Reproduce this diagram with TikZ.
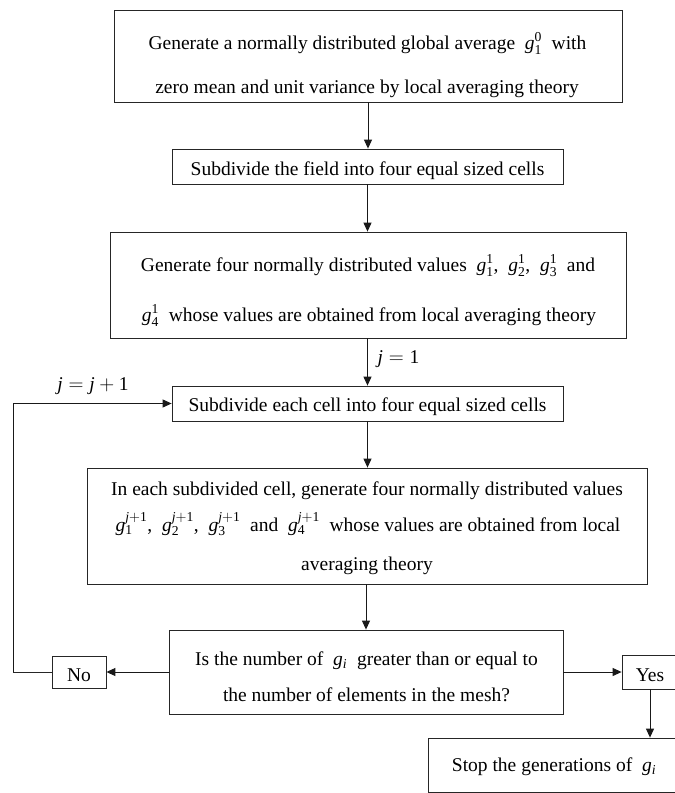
\documentclass[tikz,border=0pt]{standalone}
\usepackage{fontspec}
\setmainfont{Liberation Serif}
\usetikzlibrary{arrows.meta}
\tikzset{
  box/.style={draw=black!85, line width=0.8pt, inner sep=0pt, rectangle},
  txt/.style={anchor=base, inner sep=0pt, font=\fontsize{19.5}{23}\selectfont},
  arr/.style={draw=black!90, line width=1pt, -{Triangle[length=9pt,width=8pt]}},
  plain/.style={draw=black!85, line width=0.8pt}
}
\newcommand{\gv}[2]{\mathit{g}_{\mathrm{#1}}^{\mathrm{#2}}}
\begin{document}
\begin{tikzpicture}[x=1pt,y=-1pt]
\clip (0,0) rectangle (675,793);
\fill[white] (0,0) rectangle (675,793);
% boxes
\node[box, minimum width=508, minimum height=92] (b1) at (368,56) {};
\node[box, minimum width=391, minimum height=35] (b2) at (367.5,166.5) {};
\node[box, minimum width=516, minimum height=106] (b3) at (368,285) {};
\node[box, minimum width=391, minimum height=35] (b4) at (367.5,403.5) {};
\node[box, minimum width=560, minimum height=116] (b5) at (367,526) {};
\node[box, minimum width=394, minimum height=84] (b6) at (366,672) {};
\node[box, minimum width=54, minimum height=32] (no) at (79,672) {};
\node[box, minimum width=56, minimum height=34] (yes) at (650,672) {};
\node[box, minimum width=264, minimum height=54] (stop) at (560,765) {};
% texts
\node[txt] (t1a) at (367.5,49) {Generate a normally distributed global average\ \ $\gv{1}{0}$\ \ with};
\node[txt] (t1b) at (367,93) {zero mean and unit variance by local averaging theory};
\node[txt] (t2) at (367.5,175.5) {Subdivide the field into four equal sized cells};
\node[txt] (t3a) at (368,271.5) {Generate four normally distributed values\ \ $\gv{1}{1}$,\ \ $\gv{2}{1}$,\ \ $\gv{3}{1}$\ \ and};
\node[txt] (t3b) at (369,321.5) {$\gv{4}{1}$\ \ whose values are obtained from local averaging theory};
\node[txt] (t4) at (367.5,411.5) {Subdivide each cell into four equal sized cells};
\node[txt] (t5a) at (367,495) {In each subdivided cell, generate four normally distributed values};
\node[txt] (t5b) at (368,531.5) {$\gv{1}{\mathit{j}+1}$,\ \ $\gv{2}{\mathit{j}+1}$,\ \ $\gv{3}{\mathit{j}+1}$\ \ and\ \ $\gv{4}{\mathit{j}+1}$\ \ whose values are obtained from local};
\node[txt] (t5c) at (367,570.5) {averaging theory};
\node[txt] (t6a) at (366.5,665) {Is the number of\ \ $\mathit{g}_{\mathit{i}}$\ \ greater than or equal to};
\node[txt] (t6b) at (366.5,701.5) {the number of elements in the mesh?};
\node[txt] (tno) at (79,681.5) {No};
\node[txt] (tyes) at (650,681.5) {Yes};
\node[txt] (tstop) at (554,771) {Stop the generations of\ \ $\mathit{g}_{\mathit{i}}$};
\node[txt] (lj1) at (398.5,363) {$\mathit{j}=\mathrm{1}$};
\node[txt] (ljj) at (93,390) {$\mathit{j}=\mathit{j}+\mathrm{1}$};
% connectors
\draw[arr] (b1.south) -- (b1.south |- b2.north);
\draw[arr] (b2.south) -- (b2.south |- b3.north);
\draw[arr] (b3.south -| b4.north) -- (b4.north);
\draw[arr] (b4.south) -- (b4.south |- b5.north);
\draw[arr] (b5.south -| b6.north) -- (b6.north);
\draw[arr] (b6.west) -- (no.east);
\draw[arr] (b6.east) -- (yes.west);
\draw[arr] (yes.south) -- (yes.south |- stop.north);
\coordinate (lp) at (13,672);
\draw[plain] (no.west) -- (lp);
\draw[arr] (lp) |- (b4.west);
\end{tikzpicture}
\end{document}
